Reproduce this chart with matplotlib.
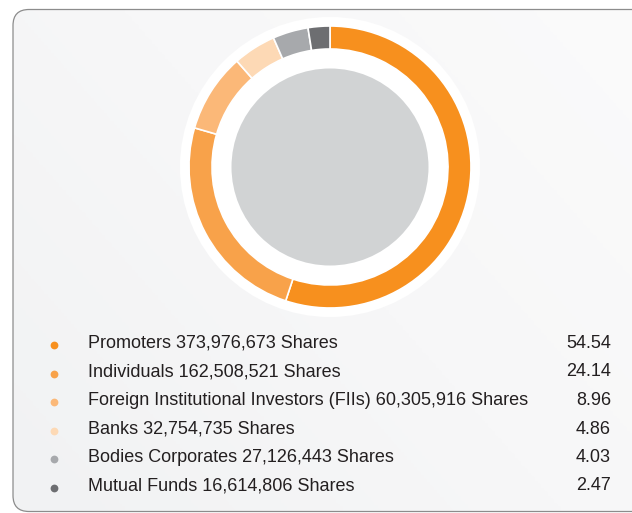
import matplotlib
matplotlib.use("Agg")
import matplotlib.pyplot as plt
import numpy as np
from matplotlib.patches import FancyBboxPatch, Circle

categories = ["Promoters", "Individuals", "Foreign Institutional Investors (FIIs)",
              "Banks", "Bodies Corporates", "Mutual Funds"]
shares = ["373,976,673", "162,508,521", "60,305,916", "32,754,735", "27,126,443", "16,614,806"]
percent = [54.54, 24.14, 8.96, 4.86, 4.03, 2.47]
colors = ["#F7901E", "#F8A24A", "#FBB878", "#FDD9B5", "#A7A9AC", "#6D6E71"]

W, H = 632, 513
fig = plt.figure(figsize=(W / 100, H / 100), dpi=100)
fig.patch.set_facecolor("white")

# background card, pixel coords
ax = fig.add_axes([0, 0, 1, 1])
ax.set_xlim(0, W)
ax.set_ylim(H, 0)
ax.axis("off")

card = FancyBboxPatch((13, 9.5), 660, 502, boxstyle="round,pad=0,rounding_size=16",
                      facecolor="none", edgecolor="#8C8C8C", linewidth=0.9, zorder=3)
ax.add_patch(card)
# soft diagonal gradient inside the card
gx, gy = np.meshgrid(np.linspace(0, 1, 200), np.linspace(0, 1, 200))
grad = np.clip((gx * 0.6 + gy * 0.4), 0, 1)
img = ax.imshow(grad, extent=(13, 673, 9.5, 511.5), origin="upper",
                cmap=matplotlib.colors.LinearSegmentedColormap.from_list(
                    "bg", ["#F1F2F3", "#F7F7F8", "#FBFBFB"]),
                zorder=1, aspect="auto")
img.set_clip_path(FancyBboxPatch((13, 9.5), 660, 502, boxstyle="round,pad=0,rounding_size=16",
                                 transform=ax.transData))
ax.set_xlim(0, W)
ax.set_ylim(H, 0)

# donut
cx, cy, R = 330, 167, 150
pax = fig.add_axes([(cx - R) / W, (H - cy - R) / H, 2 * R / W, 2 * R / H])
pax.add_patch(Circle((0, 0), 150, facecolor="white", edgecolor="none", zorder=1))
pax.pie(percent, colors=colors, radius=141, startangle=90, counterclock=False,
        wedgeprops=dict(width=23, edgecolor="white", linewidth=1.2), frame=True)
pax.set_xlim(-R, R)
pax.set_ylim(-R, R)
pax.set_aspect("equal")
pax.axis("off")
pax.add_patch(Circle((0, 0), 98.5, facecolor="#D1D3D4", edgecolor="none", zorder=5))

# legend rows
y0, dy = 348, 28.5
for i, (c, s, p, col) in enumerate(zip(categories, shares, percent, colors)):
    y = y0 + i * dy
    ax.plot(54, y - 3, "o", color=col, markersize=5.6, markeredgewidth=0, zorder=4)
    ax.text(88, y, f"{c} {s} Shares", fontsize=13, family="Liberation Sans",
            color="#231F20", va="baseline", ha="left", zorder=4)
    ax.text(611, y, f"{p:.2f}", fontsize=13, family="Liberation Sans",
            color="#231F20", va="baseline", ha="right", zorder=4)

fig.savefig("out.png", dpi=100, facecolor="white")
